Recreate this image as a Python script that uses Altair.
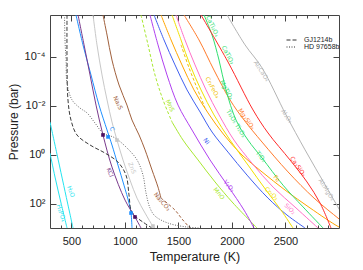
import altair as alt
import pandas as pd

# ---------------- data (temperature in K, log10 pressure in bar) ----------------
H2O_T = [300, 365, 464, 515]
H2O_lp = [-1.33, -0.02, 1.98, 3.00]
H3PO4_T = [300, 347, 403, 459]
H3PO4_lp = [-0.06, 0.92, 1.98, 3.00]
C_T = [543, 608, 683, 758, 833, 879, 935, 991, 1038, 1057, 1066]
C_lp = [-5.70, -4.48, -3.25, -2.02, -1.00, -0.39, 0.43, 1.25, 1.98, 2.39, 3.00]
KCl_T = [562, 618, 674, 730, 795, 879, 1001, 1094, 1150]
KCl_lp = [-5.70, -4.48, -3.25, -2.02, -0.80, 0.51, 1.86, 2.55, 3.00]
ZnS_T = [702, 739, 786, 833, 879, 926, 982, 1047, 1113, 1188, 1262, 1281]
ZnS_lp = [-5.70, -4.48, -3.25, -2.23, -1.33, -0.59, 0.22, 1.04, 1.78, 2.39, 2.92, 3.00]
Na2S_T = [795, 833, 879, 945, 1019, 1066, 1132, 1188, 1253, 1309, 1337]
Na2S_lp = [-5.70, -4.88, -3.86, -2.84, -2.02, -1.41, -0.80, -0.19, 0.63, 1.33, 1.78]
Na2CO3_T = [1337, 1468, 1533, 1608]
Na2CO3_lp = [1.78, 2.27, 2.63, 3.00]
MnS_T = [1150, 1216, 1281, 1356, 1440]
MnS_lp = [-5.70, -4.48, -3.25, -2.23, -1.33]
MnO_T = [1440, 1543, 1683, 1842, 2010, 2234]
MnO_lp = [-1.33, -0.59, 0.22, 1.12, 1.98, 3.00]
V2O3_T = [1234, 1309, 1393, 1496, 1627, 1795, 1963, 2113, 2206]
V2O3_lp = [-5.70, -4.48, -3.25, -2.02, -1.00, 0.22, 1.29, 2.27, 3.00]
Ni_T = [1272, 1365, 1468, 1580, 1702, 1814, 1963, 2141, 2337, 2514, 2683]
Ni_lp = [-5.70, -4.68, -3.66, -2.64, -1.74, -0.92, -0.10, 0.84, 1.78, 2.47, 3.00]
Fe_T = [1337, 1431, 1533, 1645, 1776, 1926, 2094, 2281, 2496, 2729, 3000, 3103]
Fe_lp = [-5.70, -4.68, -3.66, -2.64, -1.70, -0.80, 0.02, 0.71, 1.45, 2.18, 2.96, 3.16]
Cr2O3_T = [1440, 1524, 1608, 1711, 1832, 1982, 2150, 2318, 2458, 2570]
Cr2O3_lp = [-5.70, -4.68, -3.66, -2.64, -1.62, -0.59, 0.43, 1.45, 2.27, 3.00]
Cr2FeO4_T = [1524, 1599, 1673, 1748]
Cr2FeO4_lp = [-4.48, -3.54, -2.72, -1.90]
SiO2_T = [1477, 1561, 1655, 1758, 1879, 2019, 2187, 2384, 2598, 2804]
SiO2_lp = [-5.70, -4.68, -3.66, -2.64, -1.62, -0.59, 0.35, 1.33, 2.18, 3.00]
Mg2SiO4_T = [1552, 1692, 1832, 1982, 2113, 2281, 2524, 2767, 3000, 3103]
Mg2SiO4_lp = [-5.70, -4.68, -3.45, -2.23, -1.41, -0.51, 0.71, 1.78, 2.63, 3.00]
Ti_T = [1739, 1814, 1879, 1944, 2038, 2150, 2281, 2477, 2664, 2851]
Ti_lp = [-5.70, -4.88, -3.86, -2.64, -1.41, -0.59, 0.14, 1.25, 2.14, 3.00]
Ca2SiO4_T = [1711, 1963, 2197, 2337, 2542, 2701, 2823, 2925]
Ca2SiO4_lp = [-5.70, -3.78, -1.82, -0.88, 0.22, 1.12, 1.98, 3.00]
Al_T = [1954, 2122, 2281, 2505, 2683, 2888, 3103]
Al_lp = [-5.70, -4.48, -3.54, -1.62, -0.19, 1.37, 3.00]

# P-T profiles
GJ_T = [459, 459, 468, 496, 552, 674, 814, 935, 1010, 1038, 1057, 1094, 1169, 1253]
GJ_lp = [-5.70, -3.86, -2.23, -1.41, -0.80, -0.39, -0.06, 0.31, 0.84, 1.65, 2.27, 2.51, 2.76, 3.00]
HD_T = [436, 440, 450, 459, 506, 580, 646, 720, 795, 907, 1019, 1113, 1169, 1197, 1234, 1281, 1403, 1580, 1702]
HD_lp = [-5.70, -4.68, -3.86, -2.92, -2.23, -1.90, -1.70, -1.29, -0.88, -0.68, -0.27, 0.22, 0.84, 1.57, 2.18, 2.51, 2.80, 2.96, 3.00]

# intersection markers
mark_T = [795, 842, 926, 1057, 1094, 1262]
mark_lp = [-0.80, -0.72, -0.59, 2.39, 2.55, 2.92]
mark_col = ["#4b1060", "#1E90FF", "#c8c8c8", "#1E90FF", "#4b1060", "#c8c8c8"]

# curve labels
lab_text = ["H\u2082O", "H\u2083PO\u2084", "C", "KCl", "ZnS", "Na\u2082S", "Na\u2082CO\u2083", "MnS",
            "Ni", "V\u2082O\u2083", "MnO", "Cr\u2082FeO\u2084", "CaTi\u2082O\u2084", "CaTiO\u2083",
            "MgTiO\u2083", "Mg\u2082SiO\u2084", "Ti\u2083O\u2085 Ti\u2082O\u2083", "TiO\u2082", "Fe",
            "Ca\u2082SiO\u2084", "Cr\u2082O\u2083", "SiO\u2082", "Al\u2082CaO\u2084", "Al\u2082O\u2083",
            "Al\u2082MgO\u2084"]
lab_T = [496, 403, 879, 861, 1066, 935, 1346, 1421, 1762, 1972, 1879, 1818, 1818, 1963,
         1949, 2136, 2038, 2271, 2418, 2617, 2369, 2542, 2276, 2511, 2883]
lab_lp = [1.51, 2.39, -1.04, 0.73, 0.55, -2.11, 1.92, -2.00, -0.55, 1.29, 1.59, -2.74, -5.25, -4.07,
          -2.64, -1.45, -1.27, 0.08, 0.98, 0.49, 1.59, 2.22, -3.41, -1.57, 1.43]
lab_ang = [70, 72, 70, 68, 68, 65, 50, 65, 55, 52, 50, 62, 65, 62, 62, 55, 58, 52, 45, 55, 45, 45, 57, 55, 58]

CYAN, LBLUE, PURP, LGRAY, BROWN = "#22e4f0", "#1E90FF", "#7a3a8c", "#c8c8c8", "#a0603c"
YGREEN, VIOLET, BLUE, ORANGE = "#a8e830", "#b040f0", "#4060f0", "#ffa500"
YELLOW, GOLD, PINK, CORAL, GREEN, RED, GRAY = "#f2e000", "#f0c000", "#ff70c8", "#ff7a2a", "#30e070", "#ff2a2a", "#b4b4b4"
lab_col = [CYAN, CYAN, LBLUE, PURP, LGRAY, BROWN, BROWN, YGREEN, BLUE, VIOLET, YGREEN, GOLD, GREEN, GREEN,
           GREEN, CORAL, GREEN, GREEN, ORANGE, RED, YELLOW, PINK, GRAY, GRAY, GRAY]

curves = [
    ("H2O", H2O_T, H2O_lp, CYAN, False),
    ("H3PO4", H3PO4_T, H3PO4_lp, CYAN, False),
    ("C", C_T, C_lp, LBLUE, False),
    ("KCl", KCl_T, KCl_lp, PURP, False),
    ("ZnS", ZnS_T, ZnS_lp, LGRAY, False),
    ("Na2S", Na2S_T, Na2S_lp, BROWN, False),
    ("Na2CO3", Na2CO3_T, Na2CO3_lp, BROWN, True),
    ("MnS", MnS_T, MnS_lp, YGREEN, True),
    ("MnO", MnO_T, MnO_lp, YGREEN, False),
    ("V2O3", V2O3_T, V2O3_lp, VIOLET, False),
    ("Ni", Ni_T, Ni_lp, BLUE, False),
    ("Fe", Fe_T, Fe_lp, ORANGE, False),
    ("Cr2O3", Cr2O3_T, Cr2O3_lp, YELLOW, False),
    ("Cr2FeO4", Cr2FeO4_T, Cr2FeO4_lp, GOLD, True),
    ("SiO2", SiO2_T, SiO2_lp, PINK, False),
    ("Mg2SiO4", Mg2SiO4_T, Mg2SiO4_lp, CORAL, False),
    ("Ti", Ti_T, Ti_lp, GREEN, False),
    ("Ca2SiO4", Ca2SiO4_T, Ca2SiO4_lp, RED, False),
    ("Al", Al_T, Al_lp, GRAY, False),
]

rows = []
for name, Ts, lps, col, dashed in curves:
    for i, (t, lp) in enumerate(zip(Ts, lps)):
        rows.append(dict(name=name, T=t, P=10 ** lp, i=i, col=col, dashed=dashed))
df = pd.DataFrame(rows)

prow = []
for name, Ts, lps, col in [("GJ1214b", GJ_T, GJ_lp, "#3a3a3a"), ("HD 97658b", HD_T, HD_lp, "#6a6a6a")]:
    for i, (t, lp) in enumerate(zip(Ts, lps)):
        prow.append(dict(name=name, T=t, P=10 ** lp, i=i, col=col))
dfp = pd.DataFrame(prow)

dfm = pd.DataFrame(dict(T=mark_T, P=[10 ** v for v in mark_lp], col=mark_col))
dfl = pd.DataFrame(dict(txt=lab_text, T=lab_T, P=[10 ** v for v in lab_lp], ang=lab_ang, col=lab_col))

W, H = 289, 213
xs = alt.Scale(domain=[300, 3000], nice=False, zero=False)
ys = alt.Scale(type="log", domain=[2e-6, 1e3], nice=False, reverse=True)
AX = "#444444"
FONT = "Liberation Sans"

x_main = alt.Axis(values=[500, 1000, 1500, 2000, 2500], format="d", ticks=False, domain=False, grid=False,
                  labelFontSize=11, labelFont=FONT, labelColor="#222", labelPadding=7, labelFlush=False,
                  title="Temperature (K)", titleFont=FONT, titleFontSize=12.5, titleFontWeight="normal",
                  titleColor="#222", titlePadding=4)
y_main = alt.Axis(values=[1e-4, 1e-2, 1, 1e2],
                  labelExpr="datum.value < 1e-3 ? '10\u207b\u2074' : datum.value < 0.1 ? '10\u207b\u00b2' : datum.value < 10 ? '10\u2070' : '10\u00b2'",
                  ticks=False, domain=False, grid=False, labelFontSize=11, labelFont=FONT, labelColor="#222",
                  labelPadding=5, labelFlush=False,
                  title="Pressure (bar)", titleFont=FONT, titleFontSize=12, titleFontWeight="normal",
                  titleColor="#222", titlePadding=4)

solid = alt.Chart(df[~df.dashed]).mark_line(strokeWidth=1, interpolate="catmull-rom", clip=True).encode(
    x=alt.X("T:Q", scale=xs, axis=x_main),
    y=alt.Y("P:Q", scale=ys, axis=y_main),
    color=alt.Color("col:N", scale=None),
    detail="name:N",
    order="i:Q",
)
dashed = alt.Chart(df[df.dashed]).mark_line(strokeWidth=1, interpolate="catmull-rom", clip=True,
                                             strokeDash=[3, 2]).encode(
    x=alt.X("T:Q", scale=xs, axis=None),
    y=alt.Y("P:Q", scale=ys, axis=None),
    color=alt.Color("col:N", scale=None),
    detail="name:N",
    order="i:Q",
)
prof = alt.Chart(dfp).mark_line(strokeWidth=1, interpolate="catmull-rom", clip=True).encode(
    x=alt.X("T:Q", scale=xs, axis=None),
    y=alt.Y("P:Q", scale=ys, axis=None),
    color=alt.Color("col:N", scale=None),
    detail="name:N",
    order="i:Q",
    strokeDash=alt.StrokeDash("name:N",
                              scale=alt.Scale(domain=["GJ1214b", "HD 97658b"], range=[[4, 2], [1, 1.5]]),
                              legend=alt.Legend(title=None, orient="none", legendX=236, legendY=22,
                                                symbolType="stroke", symbolSize=100, symbolStrokeColor="#333",
                                                symbolStrokeWidth=1, labelFontSize=7, labelFont=FONT,
                                                labelColor="#222", labelOffset=7, clipHeight=6, rowPadding=0,
                                                padding=0)),
)
marks = alt.Chart(dfm).mark_square(size=13, opacity=1).encode(
    x=alt.X("T:Q", scale=xs, axis=None),
    y=alt.Y("P:Q", scale=ys, axis=None),
    color=alt.Color("col:N", scale=None),
)
labels = alt.Chart(dfl).mark_text(font="DejaVu Sans", fontSize=6, align="center", baseline="middle").encode(
    x=alt.X("T:Q", scale=xs, axis=None),
    y=alt.Y("P:Q", scale=ys, axis=None),
    text="txt:N",
    color=alt.Color("col:N", scale=None),
    angle=alt.Angle("ang:Q", scale=None),
)

dummy = pd.DataFrame(dict(T=[1000], P=[1.0]))
x_major = [500, 1000, 1500, 2000, 2500]
x_minor = [v for v in range(400, 3000, 100) if v % 500 != 0]
yvals = [1e-4, 1e-2, 1, 1e2]


def tick_layer(xaxis, yaxis):
    return alt.Chart(dummy).mark_point(opacity=0).encode(
        x=alt.X("T:Q", scale=xs, axis=xaxis),
        y=alt.Y("P:Q", scale=ys, axis=yaxis),
    )


tc = dict(labels=False, domain=False, grid=False, title=None, tickColor=AX, tickWidth=1)
tick_layers = [
    tick_layer(alt.Axis(orient="top", offset=-H, values=x_major, tickSize=6, **tc), None),
    tick_layer(alt.Axis(orient="top", offset=-H, values=x_minor, tickSize=3, **tc), None),
    tick_layer(alt.Axis(orient="bottom", offset=-H, values=x_major, tickSize=6, **tc), None),
    tick_layer(alt.Axis(orient="bottom", offset=-H, values=x_minor, tickSize=3, **tc), None),
    tick_layer(None, alt.Axis(orient="right", offset=-W, values=yvals, tickSize=6, **tc)),
    tick_layer(None, alt.Axis(orient="left", offset=-W, values=yvals, tickSize=6, **tc)),
]

chart = alt.layer(solid, dashed, prof, marks, labels, *tick_layers).resolve_axis(
    x="independent", y="independent"
).properties(
    width=W, height=H,
    autosize=alt.AutoSizeParams(type="none"),
    padding={"left": 42, "top": 7, "right": 14, "bottom": 40},
    background="white",
).configure_view(stroke=AX, strokeWidth=1)

chart.save("out.html", embed_options={"renderer": "svg", "actions": False})
